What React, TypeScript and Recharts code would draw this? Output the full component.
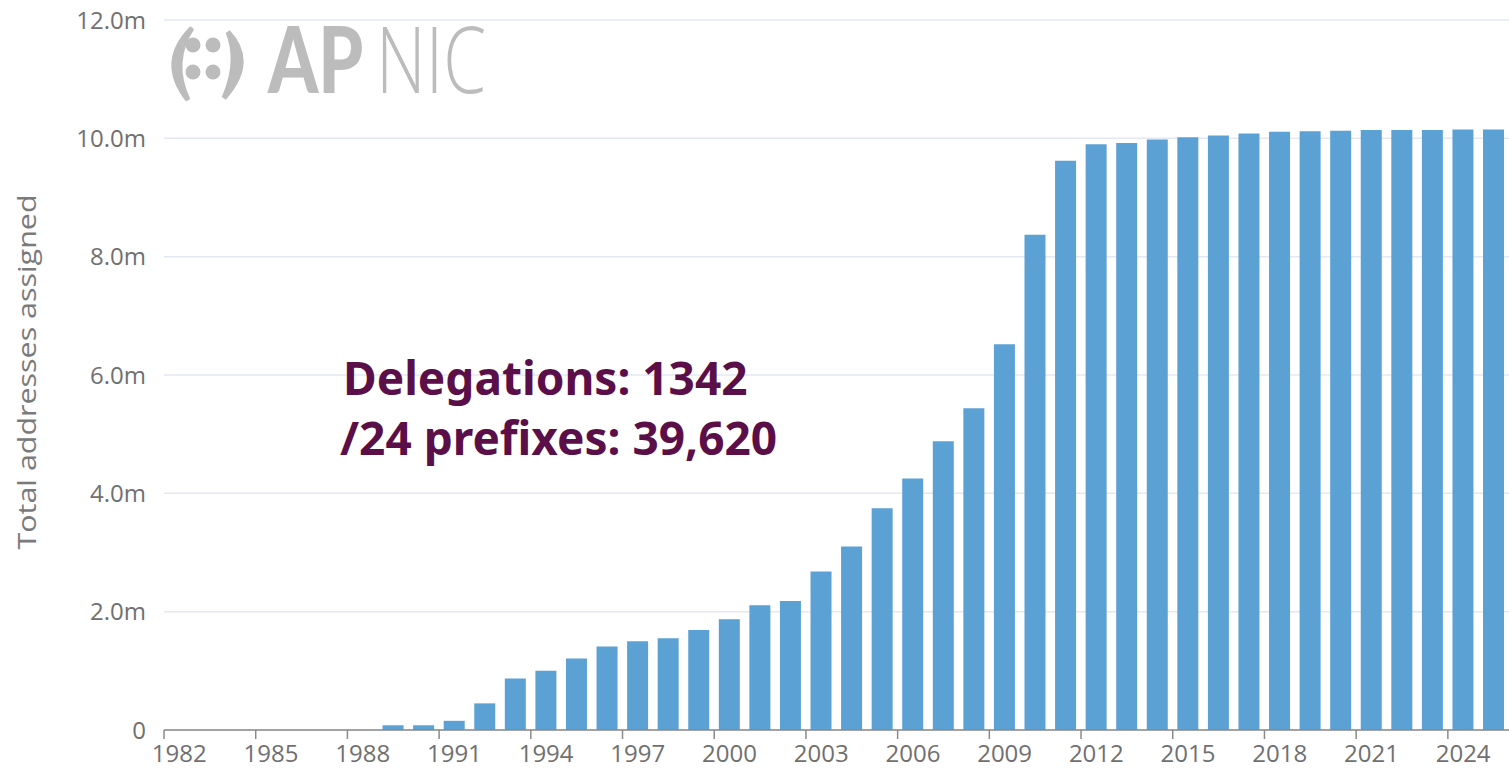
import { BarChart, Bar, XAxis, YAxis, CartesianGrid } from 'recharts'

const years = [
  1982, 1983, 1984, 1985, 1986, 1987, 1988, 1989, 1990, 1991, 1992, 1993, 1994, 1995, 1996,
  1997, 1998, 1999, 2000, 2001, 2002, 2003, 2004, 2005, 2006, 2007, 2008, 2009, 2010, 2011,
  2012, 2013, 2014, 2015, 2016, 2017, 2018, 2019, 2020, 2021, 2022, 2023, 2024, 2025,
]

// total addresses assigned, in millions
const addresses = [
  0, 0, 0, 0, 0, 0, 0, 0.08, 0.08, 0.155, 0.45, 0.87, 1.0, 1.21, 1.41,
  1.5, 1.55, 1.69, 1.87, 2.11, 2.18, 2.68, 3.1, 3.75, 4.25, 4.88, 5.44, 6.52, 8.37, 9.62,
  9.9, 9.92, 9.98, 10.02, 10.05, 10.08, 10.11, 10.12, 10.13, 10.14, 10.14, 10.14, 10.15, 10.15,
]

const yTicks = [0, 2, 4, 6, 8, 10, 12]

const delegations = '1342'
const prefixes24 = '39,620'

const data = years.map((y, i) => ({ year: y, total: addresses[i] }))

const W = 1509
const H = 770
const Y_AXIS_W = 164
const FONT = '"Open Sans", sans-serif'
const band = (W - Y_AXIS_W) / years.length

function XTick(props: any) {
  const { x, y, payload } = props
  const left = x - band / 2
  return (
    <g>
      <line x1={left} x2={left} y1={y} y2={y + 9} stroke="#8a8a8a" strokeWidth={1.5} />
      <text x={x} y={y + 32} textAnchor="middle" fontSize={24} fontFamily={FONT} fill="#707070">
        {payload.value}
      </text>
    </g>
  )
}

const fmtY = (v: number) => (v === 0 ? '0' : `${v.toFixed(1)}m`)

export default function App() {
  return (
    <div style={{ position: 'absolute', left: 0, top: 0, width: W, height: H, background: '#fff' }}>
      <BarChart
        width={W}
        height={H}
        data={data}
        margin={{ top: 20, right: 0, left: 0, bottom: 0 }}
        barCategoryGap="15%"
      >
        <CartesianGrid vertical={false} stroke="#e4e8f2" strokeWidth={1.5} />
        <XAxis
          dataKey="year"
          interval={2}
          height={40}
          tickSize={0}
          tickMargin={0}
          tickLine={false}
          axisLine={{ stroke: '#8a8a8a', strokeWidth: 1.5 }}
          tick={<XTick />}
        />
        <YAxis
          width={Y_AXIS_W}
          domain={[0, 12]}
          ticks={yTicks}
          tickFormatter={fmtY}
          axisLine={false}
          tickLine={false}
          tickSize={0}
          tickMargin={18}
          tick={{ fontSize: 24, fontFamily: FONT, fill: '#707070' }}
        />
        <Bar dataKey="total" fill="#5ba1d4" isAnimationActive={false} />
      </BarChart>

      <svg
        width={W}
        height={H}
        style={{ position: 'absolute', left: 0, top: 0, pointerEvents: 'none' }}
      >
        {/* APNIC watermark */}
        <g fill="#bcbcbc">
          <path d="M192 28 Q158 62 188 100 Q170 62 192 28 Z" stroke="#bcbcbc" strokeWidth={5} />
          <circle cx={193} cy={45} r={7.5} />
          <circle cx={213} cy={45} r={7.5} />
          <circle cx={193} cy={72} r={7.5} />
          <circle cx={213} cy={72} r={7.5} />
          <path d="M228 32 Q256 62 224 98 Q240 62 228 32 Z" stroke="#bcbcbc" strokeWidth={5} />
          <text transform="translate(268 93) scale(0.78 1)" fontSize={92} fontWeight={900} fontFamily="Lato, sans-serif">
            AP
          </text>
          <text transform="translate(376 93) scale(0.75 1)" fontSize={92} fontWeight={300} fontFamily={FONT}>
            NIC
          </text>
        </g>

        <text
          transform="translate(36 372) rotate(-90)"
          textAnchor="middle"
          fontSize={25}
          fontFamily={FONT}
          fill="#7a7a7a"
          textLength={355}
          lengthAdjust="spacingAndGlyphs"
        >
          Total addresses assigned
        </text>

        <g fontFamily='"Noto Sans", sans-serif' fontWeight={700} fontSize={46} fill="#5b0f48">
          <text x={343} y={395}>Delegations: {delegations}</text>
          <text x={340} y={455}>/24 prefixes: {prefixes24}</text>
        </g>
      </svg>
    </div>
  )
}
